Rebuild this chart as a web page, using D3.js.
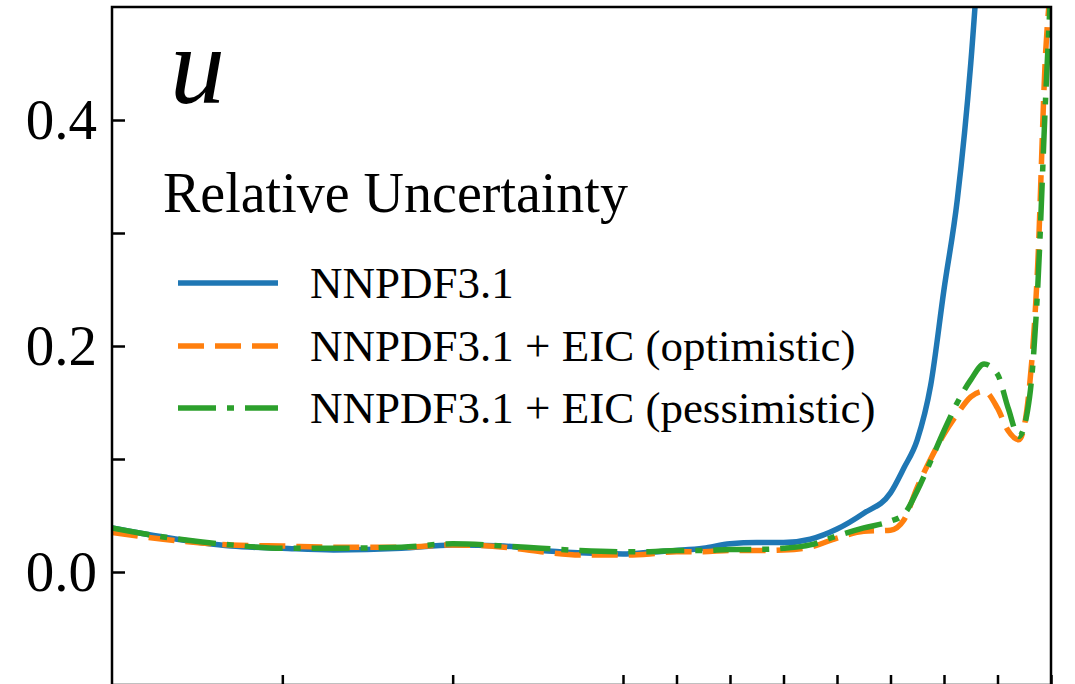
<!DOCTYPE html>
<html>
<head>
  <meta charset="utf-8">
  <title>u relative uncertainty</title>
  <script src="https://d3js.org/d3.v7.min.js"></script>
  <style>
    body { margin: 0; background: #fff; }
    svg { font-family: "Liberation Serif", "DejaVu Serif", serif; }
    .axis path { display: none; }
    .axis line { stroke: #000; stroke-width: 2.5; }
    .axis text { font-size: 57px; fill: #000; font-family: "Liberation Serif", serif; }
  </style>
</head>
<body>
<div id="chart"></div>
<script>
// x grid (momentum fraction) shared by the three series
var xGrid = [1e-4, 2e-4, 5e-4, 1e-3, 2e-3, 5e-3, 0.01, 0.02, 0.033, 0.056, 0.1,
  0.15, 0.2, 0.25, 0.3, 0.35, 0.4, 0.45, 0.5, 0.55, 0.6, 0.625, 0.65, 0.675,
  0.7, 0.725, 0.75, 0.775, 0.8, 0.82, 0.84, 0.86, 0.875, 0.89, 0.9];

// relative uncertainty of u (null = off the chart)
var nnpdf = [0.039, 0.031, 0.023, 0.021, 0.0195, 0.021, 0.024, 0.023, 0.019, 0.017, 0.016,
  0.0175, 0.019, 0.021, 0.025, 0.026, 0.026, 0.029, 0.038, 0.052, 0.070, 0.092, 0.117, 0.165,
  0.25, 0.33, 0.45, 0.62, null, null, null, null, null, null, null];
var eicOptimistic = [0.035, 0.029, 0.024, 0.023, 0.022, 0.022, 0.024, 0.022, 0.018, 0.015, 0.015,
  0.016, 0.018, 0.018, 0.019, 0.019, 0.0195, 0.022, 0.030, 0.036, 0.037, 0.046, 0.075, 0.100,
  0.122, 0.140, 0.155, 0.160, 0.145, 0.125, 0.117, 0.165, 0.27, 0.46, 0.52];
var eicPessimistic = [0.039, 0.031, 0.024, 0.021, 0.021, 0.022, 0.025, 0.023, 0.021, 0.019, 0.018,
  0.018, 0.019, 0.019, 0.020, 0.020, 0.021, 0.024, 0.032, 0.039, 0.045, 0.051, 0.072, 0.098,
  0.125, 0.150, 0.170, 0.184, 0.175, 0.145, 0.120, 0.155, 0.25, 0.42, 0.52];

var seriesNames = ["NNPDF3.1", "NNPDF3.1 + EIC (optimistic)", "NNPDF3.1 + EIC (pessimistic)"];
var yTicks = [-0.1, 0, 0.1, 0.2, 0.3, 0.4];
var yLabelled = [0, 0.2, 0.4];
var xLogTicks = [1e-3, 1e-2];
var xLinTicks = [0.1, 0.2, 0.3, 0.4, 0.5, 0.6, 0.7, 0.8, 0.9];

var W = 1075, H = 684;
var plotL = 112, plotR = 1051, plotT = 7, plotB = 685, split = 623;

var svg = d3.select("#chart").append("svg")
    .attr("width", W)
    .attr("height", H);

// log part up to 0.1, linear part above
var xLog = d3.scaleLog().domain([1e-4, 0.1]).range([plotL, split]);
var xLin = d3.scaleLinear().domain([0.1, 0.9]).range([split, plotR]);
function x(v) { return v <= 0.1 ? xLog(v) : xLin(v); }

var y = d3.scaleLinear().domain([-0.1, 0.5]).range([plotB, plotT]);

svg.append("clipPath").attr("id", "plotclip")
  .append("rect")
    .attr("x", plotL).attr("y", plotT)
    .attr("width", plotR - plotL).attr("height", plotB - plotT);

// axes, ticks pointing in
svg.append("g").attr("class", "axis")
    .attr("transform", "translate(" + plotL + ",0)")
    .call(d3.axisLeft(y).tickValues(yTicks).tickSize(-13).tickPadding(15)
      .tickFormat(function(d) {
        return yLabelled.some(function(t) { return Math.abs(t - d) < 1e-9; }) ? d3.format(".1f")(d) : "";
      }));

svg.append("g").attr("class", "axis")
    .attr("transform", "translate(0," + plotB + ")")
    .call(d3.axisBottom(xLog).tickValues(xLogTicks).tickSize(-10).tickFormat(""));
svg.append("g").attr("class", "axis")
    .attr("transform", "translate(0," + plotB + ")")
    .call(d3.axisBottom(xLin).tickValues(xLinTicks).tickSize(-10).tickFormat(""));

// lines
var colors = ["#1f77b4", "#ff7f0e", "#2ca02c"];
var dashes = [null, "26,11", "38,11,7,11"];
var allSeries = [nnpdf, eicOptimistic, eicPessimistic];

var line = d3.line()
    .defined(function(d) { return d[1] != null; })
    .x(function(d) { return x(d[0]); })
    .y(function(d) { return y(d[1]); })
    .curve(d3.curveMonotoneX);

var lines = svg.append("g").attr("clip-path", "url(#plotclip)");
allSeries.forEach(function(vals, i) {
  lines.append("path")
    .datum(xGrid.map(function(xv, j) { return [xv, vals[j]]; }))
    .attr("d", line)
    .attr("fill", "none")
    .attr("stroke", colors[i])
    .attr("stroke-width", 5.5)
    .attr("stroke-dasharray", dashes[i]);
});

// frame
svg.append("rect")
    .attr("x", plotL).attr("y", plotT)
    .attr("width", plotR - plotL).attr("height", plotB - plotT)
    .attr("fill", "none")
    .attr("stroke", "#000")
    .attr("stroke-width", 2.5);

// labels
svg.append("text")
    .attr("x", 170).attr("y", 103)
    .attr("font-size", 110)
    .attr("font-style", "italic")
    .text("u");

svg.append("text")
    .attr("x", 163).attr("y", 212)
    .attr("font-size", 56)
    .text("Relative Uncertainty");

var legend = svg.append("g");
var rowY = [283, 346, 408];
seriesNames.forEach(function(name, i) {
  legend.append("line")
    .attr("x1", 178).attr("x2", 278)
    .attr("y1", rowY[i]).attr("y2", rowY[i])
    .attr("stroke", colors[i])
    .attr("stroke-width", 5.5)
    .attr("stroke-dasharray", dashes[i]);
  legend.append("text")
    .attr("x", 310).attr("y", rowY[i])
    .attr("dy", "0.33em")
    .attr("font-size", 45)
    .text(name);
});
</script>
</body>
</html>
